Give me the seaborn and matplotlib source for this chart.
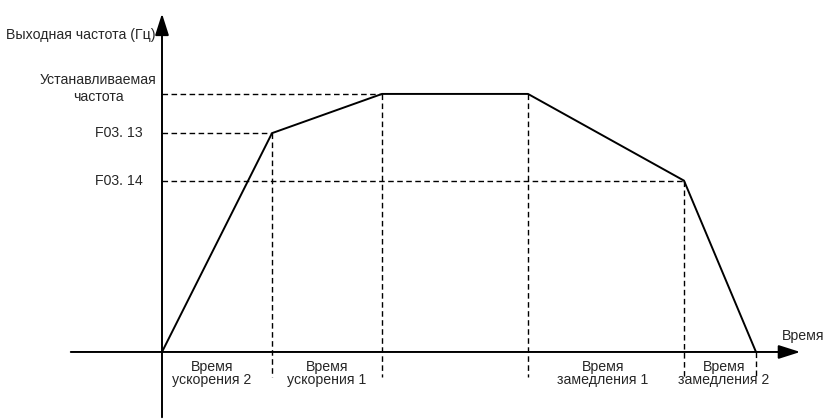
import numpy as np
import pandas as pd

import matplotlib
matplotlib.use("Agg")
import matplotlib.pyplot as plt
import seaborn as sns

# breakpoints of the frequency profile
times = [0.0, 1.1, 2.2, 3.66, 5.22, 5.94]
freqs = [0.0, 42.4, 50.0, 50.0, 33.2, 0.0]

level_names = ["Устанавливаемая\nчастота", "F03. 13", "F03. 14"]
level_values = [50.0, 42.4, 33.2]
level_times = [2.2, 1.1, 5.22]

phase_names = ["Время\nускорения 2", "Время\nускорения 1", "Время\nзамедления 1", "Время\nзамедления 2"]
phase_centers = [0.5, 1.65, 4.41, 5.62]

y_title = "Выходная частота (Гц)"
x_title = "Время"

sns.set_theme(style="white")
plt.rcParams['font.family'] = ['Liberation Sans', 'DejaVu Sans']
fs = 10.2

fig = plt.figure(figsize=(8.25, 4.2), dpi=100)
ax = fig.add_axes([0, 0, 1, 1])
ax.set_xlim(-1.62, 6.63)
ax.set_ylim(-13.18, 68.2)
ax.axis('off')

df = pd.DataFrame({'t': times, 'f': freqs})
sns.lineplot(data=df, x='t', y='f', color='black', linewidth=1.4, sort=False, ax=ax)

# axes with arrows
arrow = dict(arrowstyle='-|>,head_length=1.1,head_width=0.35', color='black', lw=1.4, mutation_scale=12)
ax.annotate('', xy=(0, 66.1), xytext=(0, -13.18), arrowprops=arrow)
ax.annotate('', xy=(6.41, 0), xytext=(-0.94, 0), arrowprops=arrow)

# dashed guide lines
for v, t in zip(level_values, level_times):
    ax.plot([0, t], [v, v], color='black', lw=1.0, dashes=(4, 2.5))
for t, f in zip(times[1:], freqs[1:]):
    ax.plot([t, t], [f, -4.85], color='black', lw=1.0, dashes=(4, 2.5))

# labels
ax.text(-0.07, 61.4, y_title, ha='right', va='center', fontsize=fs)
ax.text(-0.64, 51.0, level_names[0], ha='center', va='center', fontsize=fs, linespacing=1.25)
ax.text(-0.19, level_values[1], level_names[1], ha='right', va='center', fontsize=fs)
ax.text(-0.19, level_values[2], level_names[2], ha='right', va='center', fontsize=fs)
for name, c in zip(phase_names, phase_centers):
    ax.text(c, -4.1, name, ha='center', va='center', fontsize=fs, linespacing=0.9)
ax.text(6.41, 3.1, x_title, ha='center', va='center', fontsize=fs)

fig.savefig('out.png', dpi=100)
